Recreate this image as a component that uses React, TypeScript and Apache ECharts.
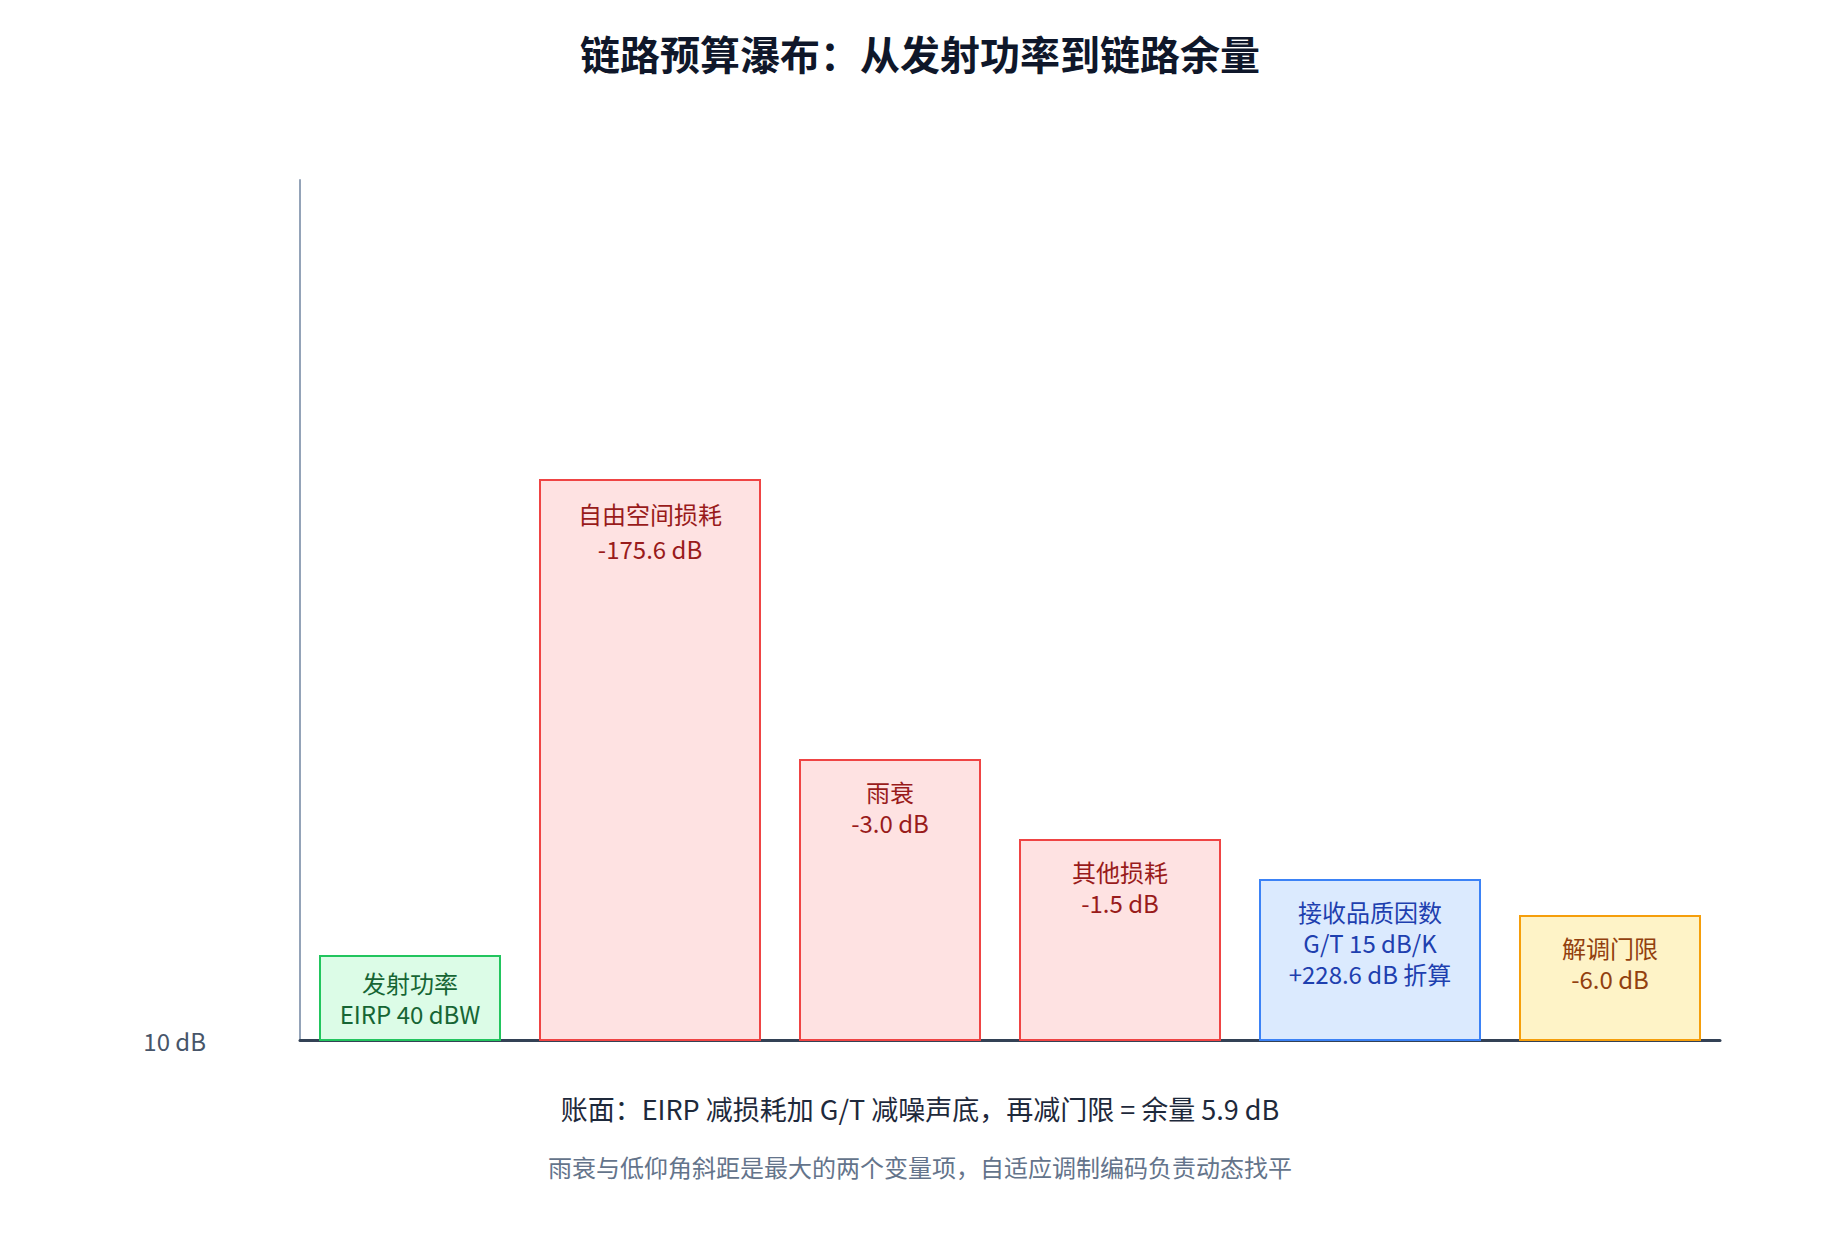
import React, { useEffect, useRef } from "react";
import * as echarts from "echarts";

// bar labels
const stepNames = ["发射功率", "自由空间损耗", "雨衰", "其他损耗", "接收品质因数", "解调门限"];
const stepDetails = ["EIRP 40 dBW", "-175.6 dB", "-3.0 dB", "-1.5 dB", "G/T 15 dB/K\n+228.6 dB 折算", "-6.0 dB"];
const stepKinds = ["gain", "loss", "loss", "loss", "receive", "threshold"];
// drawn bar heights (axis starts at 10 dB) and band widths
const stepTops = [18.4, 66, 38, 30, 26, 22.4];
const stepWidths = [9, 11, 9, 10, 11, 9];
const axisMin = 10;
const axisMax = 96;

const kindColors: Record<string, { fill: string; stroke: string; text: string }> = {
  gain: { fill: "#dcfce7", stroke: "#22c55e", text: "#166534" },
  loss: { fill: "#fee2e2", stroke: "#ef4444", text: "#991b1b" },
  receive: { fill: "#dbeafe", stroke: "#3b82f6", text: "#1e40af" },
  threshold: { fill: "#fef3c7", stroke: "#f59e0b", text: "#92400e" },
};

const FONT = '"Noto Sans CJK SC", "Noto Sans", sans-serif';

const App: React.FC = () => {
  const chartRef = useRef<HTMLDivElement | null>(null);

  useEffect(() => {
    const dom = chartRef.current;
    if (!dom) return;
    const chart = echarts.init(dom, undefined, { renderer: "svg" });

    // lay the bands out along the x axis with a gap of 2 between them
    let cursor = 1;
    const bars = stepWidths.map((w, i) => {
      const item = [cursor, cursor + w, stepTops[i], i];
      cursor += w + 2;
      return item;
    });
    const xMax = cursor - 1;

    const option = {
      animation: false,
      backgroundColor: "#ffffff",
      title: {
        text: "链路预算瀑布：从发射功率到链路余量",
        left: "center",
        top: 33,
        padding: 0,
        textStyle: { fontSize: 40, fontWeight: "bold", color: "#0f172a", fontFamily: FONT },
      },
      grid: { left: 300, right: 120, top: 180, bottom: 200 },
      xAxis: {
        type: "value",
        min: 0,
        max: xMax,
        axisLine: { show: true, onZero: false, lineStyle: { color: "#334155", width: 3 } },
        axisTick: { show: false },
        axisLabel: { show: false },
        splitLine: { show: false },
      },
      yAxis: {
        type: "value",
        min: axisMin,
        max: axisMax,
        interval: axisMax - axisMin,
        axisLine: { show: true, lineStyle: { color: "#94a3b8", width: 2 } },
        axisTick: { show: false },
        splitLine: { show: false },
        axisLabel: {
          margin: 94,
          fontSize: 24,
          color: "#475569",
          fontFamily: FONT,
          formatter: (v: number) => (v === axisMin ? `${v} dB` : ""),
        },
      },
      series: [
        {
          type: "custom",
          data: bars,
          encode: { x: [0, 1], y: 2 },
          z: 5,
          renderItem: (params: any, api: any) => {
            const i = api.value(3);
            const c = kindColors[stepKinds[i]];
            const p0 = api.coord([api.value(0), api.value(2)]);
            const p1 = api.coord([api.value(1), axisMin]);
            const x = p0[0];
            const y = p0[1];
            const w = p1[0] - p0[0];
            const h = p1[1] - p0[1];
            const text = stepNames[i] + "\n" + stepDetails[i];
            const lines = text.split("\n").length;
            const lh = h > 400 ? 35 : 31;
            // short boxes centre their label, others keep a top padding
            const pad = Math.min(16, (h - lines * lh) / 2);
            return {
              type: "group",
              children: [
                {
                  type: "rect",
                  shape: { x, y, width: w, height: h },
                  style: { fill: c.fill, stroke: c.stroke, lineWidth: 2 },
                },
                {
                  type: "text",
                  x: x + w / 2,
                  y: y + pad,
                  style: {
                    text,
                    fill: c.text,
                    fontSize: 24,
                    fontFamily: FONT,
                    lineHeight: lh,
                    align: "center",
                    verticalAlign: "top",
                  },
                },
              ],
            };
          },
        },
      ],
      graphic: [
        {
          type: "text",
          left: "center",
          top: 1095,
          style: {
            text: "账面：EIRP 减损耗加 G/T 减噪声底，再减门限 = 余量 5.9 dB",
            fill: "#1e293b",
            fontSize: 27,
            fontFamily: FONT,
          },
        },
        {
          type: "text",
          left: "center",
          top: 1154,
          style: {
            text: "雨衰与低仰角斜距是最大的两个变量项，自适应调制编码负责动态找平",
            fill: "#64748b",
            fontSize: 24,
            fontFamily: FONT,
          },
        },
      ],
    };

    chart.setOption(option);
    return () => {
      chart.dispose();
    };
  }, []);

  return (
    <div
      ref={chartRef}
      style={{ position: "fixed", left: 0, top: 0, width: 1840, height: 1240 }}
    />
  );
};

export default App;
